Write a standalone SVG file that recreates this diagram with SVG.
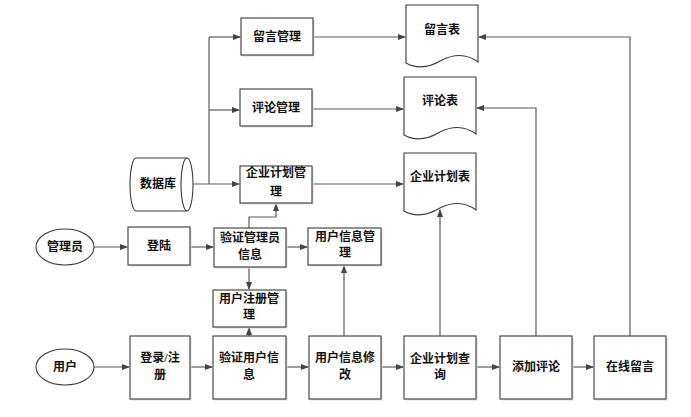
<svg xmlns="http://www.w3.org/2000/svg" width="691" height="417" viewBox="0 0 691 417">
<defs>
<marker id="ah" markerWidth="8" markerHeight="6" refX="7" refY="3" orient="auto" markerUnits="userSpaceOnUse">
<path d="M0,0 L8,3 L0,6 Z" fill="#444"/>
</marker>
</defs>
<style>
.box{fill:#fff;stroke:#3a3a3a;stroke-width:1.1}
.sh{fill:#dedede}
.t{font-family:"Liberation Serif","Noto Sans CJK SC",serif;font-size:12px;font-weight:bold;fill:#111;text-anchor:middle}
.c{fill:none;stroke:#5c5c5c;stroke-width:1.2}
.a{marker-end:url(#ah)}
</style>
<rect width="691" height="417" fill="#fff"/>

<g id="connectors">
<path class="c a" d="M193,184 H239"/>
<path class="c" d="M209,184 V37"/>
<path class="c a" d="M209,37 H240"/>
<path class="c a" d="M209,110 H239"/>
<path class="c a" d="M313,37 H405"/>
<path class="c a" d="M312,109 H403"/>
<path class="c a" d="M312,184 H403"/>
<path class="c a" d="M94,247 H127"/>
<path class="c a" d="M190,247 H213"/>
<path class="c a" d="M286,247 H307"/>
<path class="c a" d="M249,228 V217 H276 V204"/>
<path class="c a" d="M249,267 V289"/>
<path class="c a" d="M249,336 V328"/>
<path class="c a" d="M94,367 H129"/>
<path class="c a" d="M190,367 H212"/>
<path class="c a" d="M286,367 H308"/>
<path class="c a" d="M381,367 H403"/>
<path class="c a" d="M476,367 H499"/>
<path class="c a" d="M572,367 H593"/>
<path class="c a" d="M344,336 V266"/>
<path class="c a" d="M440,336 V210"/>
<path class="c a" d="M536,336 V108 H477"/>
<path class="c a" d="M630,336 V37 H479"/>
</g>

<g id="db">
<path d="M136,158 H187 A6,26.5 0 0 1 187,211 H136 A6,26.5 0 0 1 136,158 Z" fill="#fff" stroke="#3a3a3a" stroke-width="1.1"/>
<path d="M187,158 A6,26.5 0 0 0 187,211" fill="none" stroke="#3a3a3a" stroke-width="1.1"/>
<text class="t" x="158" y="188">数据库</text>
</g>

<g id="msgmgr">
<rect class="sh" x="242.5" y="19.5" width="72" height="37"/>
<rect class="box" x="241" y="18" width="72" height="37"/>
<text class="t" x="277" y="41">留言管理</text>
</g>
<g id="cmtmgr">
<rect class="sh" x="241.5" y="90.5" width="72" height="37"/>
<rect class="box" x="240" y="89" width="72" height="37"/>
<text class="t" x="276" y="112">评论管理</text>
</g>
<g id="planmgr">
<rect class="sh" x="241.5" y="167.5" width="72" height="37"/>
<rect class="box" x="240" y="166" width="72" height="37"/>
<text class="t" x="276" y="177">企业计划管</text>
<text class="t" x="276" y="196">理</text>
</g>

<g id="msgtable">
<path class="box" d="M406,5 H478 V62 Q462,50 442,60 Q422,72 406,63 Z"/>
<text class="t" x="442" y="34">留言表</text>
</g>
<g id="cmttable">
<path class="box" d="M404,77 H476 V134 Q460,122 440,132 Q420,144 404,135 Z"/>
<text class="t" x="440" y="105">评论表</text>
</g>
<g id="plantable">
<path class="box" d="M404,153 H476 V210 Q460,198 440,208 Q420,220 404,211 Z"/>
<text class="t" x="440" y="181">企业计划表</text>
</g>

<g id="admin">
<ellipse cx="65" cy="247" rx="29" ry="18" fill="#fff" stroke="#3a3a3a" stroke-width="1.1"/>
<text class="t" x="65" y="251">管理员</text>
</g>
<g id="login">
<rect class="sh" x="129.5" y="228.5" width="62" height="38"/>
<rect class="box" x="128" y="227" width="62" height="38"/>
<text class="t" x="159" y="250">登陆</text>
</g>
<g id="verifyadmin">
<rect class="sh" x="215.5" y="229.5" width="72" height="39"/>
<rect class="box" x="214" y="228" width="72" height="39"/>
<text class="t" x="250" y="242">验证管理员</text>
<text class="t" x="250" y="259">信息</text>
</g>
<g id="usermgr">
<rect class="sh" x="309.5" y="229.5" width="73" height="37"/>
<rect class="box" x="308" y="228" width="73" height="37"/>
<text class="t" x="345" y="241">用户信息管</text>
<text class="t" x="345" y="257">理</text>
</g>
<g id="regmgr">
<rect class="sh" x="214.5" y="291.5" width="73" height="37"/>
<rect class="box" x="213" y="290" width="73" height="37"/>
<text class="t" x="249" y="303">用户注册管</text>
<text class="t" x="249" y="319">理</text>
</g>

<g id="user">
<ellipse cx="65" cy="367" rx="29" ry="18" fill="#fff" stroke="#3a3a3a" stroke-width="1.1"/>
<text class="t" x="65" y="371">用户</text>
</g>
<g id="register">
<rect class="sh" x="131.5" y="337.5" width="60" height="63"/>
<rect class="box" x="130" y="336" width="60" height="63"/>
<text class="t" x="160" y="362">登录/注</text>
<text class="t" x="160" y="379">册</text>
</g>
<g id="verifyuser">
<rect class="sh" x="214.5" y="337.5" width="73" height="63"/>
<rect class="box" x="213" y="336" width="73" height="63"/>
<text class="t" x="249" y="362">验证用户信</text>
<text class="t" x="249" y="379">息</text>
</g>
<g id="useredit">
<rect class="sh" x="310.5" y="337.5" width="72" height="63"/>
<rect class="box" x="309" y="336" width="72" height="63"/>
<text class="t" x="345" y="362">用户信息修</text>
<text class="t" x="345" y="379">改</text>
</g>
<g id="planquery">
<rect class="sh" x="405.5" y="337.5" width="72" height="63"/>
<rect class="box" x="404" y="336" width="72" height="63"/>
<text class="t" x="440" y="363">企业计划查</text>
<text class="t" x="440" y="379">询</text>
</g>
<g id="addcmt">
<rect class="sh" x="501.5" y="337.5" width="72" height="63"/>
<rect class="box" x="500" y="336" width="72" height="63"/>
<text class="t" x="536" y="371">添加评论</text>
</g>
<g id="onlinemsg">
<rect class="sh" x="595.5" y="337.5" width="72" height="63"/>
<rect class="box" x="594" y="336" width="72" height="63"/>
<text class="t" x="630" y="371">在线留言</text>
</g>
</svg>
